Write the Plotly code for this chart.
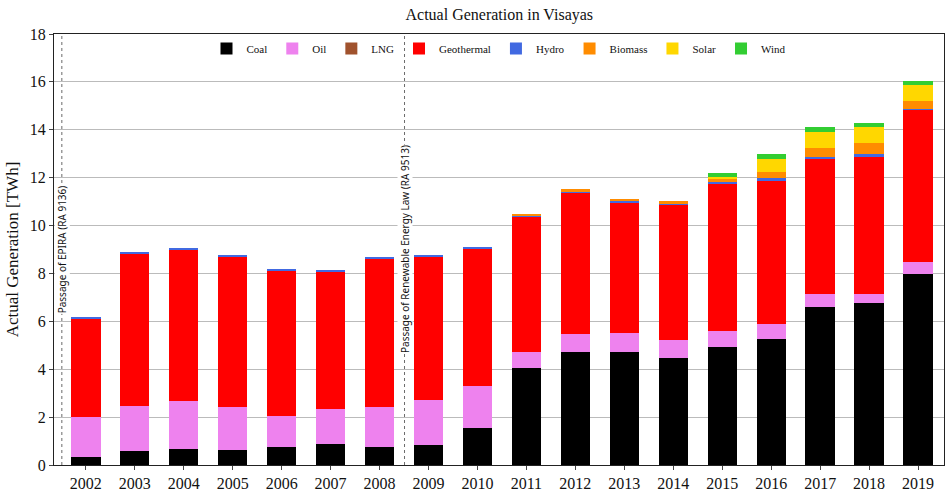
import plotly.graph_objects as go

years = [2002, 2003, 2004, 2005, 2006, 2007, 2008, 2009, 2010,
         2011, 2012, 2013, 2014, 2015, 2016, 2017, 2018, 2019]
coal = [0.35, 0.59, 0.68, 0.64, 0.76, 0.88, 0.76, 0.84, 1.55,
        4.06, 4.72, 4.72, 4.47, 4.93, 5.26, 6.60, 6.76, 7.97]
oil = [1.65, 1.87, 1.99, 1.78, 1.28, 1.45, 1.66, 1.87, 1.74,
       0.66, 0.75, 0.79, 0.75, 0.67, 0.63, 0.54, 0.38, 0.50]
lng = [0.0] * 18
geothermal = [4.10, 6.38, 6.34, 6.30, 6.10, 5.76, 6.21, 6.01, 5.76,
              5.64, 5.93, 5.47, 5.64, 6.16, 6.00, 5.62, 5.75, 6.36]
hydro = [0.05, 0.05, 0.04, 0.01, 0.04, 0.05, 0.04, 0.04, 0.04,
         0.04, 0.04, 0.05, 0.04, 0.05, 0.08, 0.09, 0.08, 0.04]
biomass = [0, 0, 0, 0, 0, 0, 0, 0, 0,
           0.09, 0.08, 0.08, 0.13, 0.16, 0.25, 0.41, 0.46, 0.33]
solar = [0, 0, 0, 0, 0, 0, 0, 0, 0,
         0, 0, 0, 0, 0.04, 0.54, 0.63, 0.67, 0.65]
wind = [0, 0, 0, 0, 0, 0, 0, 0, 0,
        0, 0, 0, 0, 0.17, 0.21, 0.21, 0.20, 0.20]

series = [
    ("Coal", coal, "#000000"),
    ("Oil", oil, "#EE82EE"),
    ("LNG", lng, "#A0522D"),
    ("Geothermal", geothermal, "#FF0000"),
    ("Hydro", hydro, "#4169E1"),
    ("Biomass", biomass, "#FF8C00"),
    ("Solar", solar, "#FFD700"),
    ("Wind", wind, "#32CD32"),
]

events = [
    (2001.51, "Passage of EPIRA (RA 9136)"),
    (2008.51, "Passage of Renewable Energy Law (RA 9513)"),
]

serif = "Liberation Serif, DejaVu Serif, serif"

fig = go.Figure()
for name, vals, col in series:
    fig.add_trace(go.Bar(x=years, y=vals, name=name, marker_color=col,
                         marker_line_width=0, width=0.6))

for xv, label in events:
    fig.add_shape(type="line", x0=xv, x1=xv, y0=0, y1=1, xref="x", yref="paper",
                  line=dict(color="#444444", width=0.8, dash="dot"), layer="above")
    fig.add_annotation(x=xv, y=9, text=label, textangle=-90, showarrow=False,
                       bgcolor="white", font=dict(family="Noto Sans, sans-serif", size=10, color="#111"),
                       borderpad=0)

fig.update_layout(
    barmode="stack",
    width=951, height=498,
    margin=dict(l=54, r=6, t=34, b=30),
    paper_bgcolor="white", plot_bgcolor="white",
    title=dict(text="Actual Generation in Visayas", x=0.525, xanchor="center", y=0.972,
               yanchor="middle", font=dict(family=serif, size=16, color="#111")),
    font=dict(family=serif, color="#111"),
    legend=dict(orientation="h", x=0.5, xanchor="center", y=1.0, yanchor="top",
                font=dict(family=serif, size=11), bgcolor="rgba(255,255,255,0)",
                traceorder="normal", itemwidth=30),
    showlegend=True,
)
fig.update_xaxes(range=[2001.35, 2019.53], tickmode="array", tickvals=years,
                 ticktext=[str(y) for y in years], ticks="outside", ticklen=4,
                 tickfont=dict(size=16), showline=True, linecolor="#222", linewidth=1,
                 mirror=True, showgrid=False)
fig.update_yaxes(range=[0, 18], dtick=2, ticks="outside", ticklen=4,
                 tickfont=dict(size=16), showline=True, linecolor="#222", linewidth=1,
                 mirror=True, showgrid=True, gridcolor="#bbbbbb", gridwidth=1,
                 title=dict(text="Actual Generation [TWh]", font=dict(size=17), standoff=6),
                 zeroline=False)

fig.write_html("out.html")
